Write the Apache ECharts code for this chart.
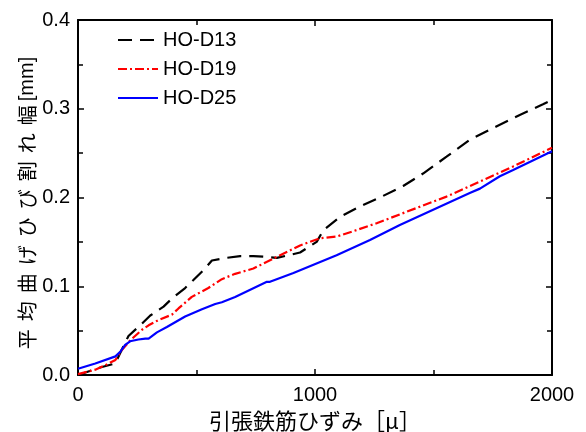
<!DOCTYPE html>
<html><head><meta charset="utf-8">
<script src="https://cdn.jsdelivr.net/npm/echarts@6/dist/echarts.min.js"></script>
<style>html,body{margin:0;padding:0;background:#fff}#c{width:586px;height:432px}</style>
</head><body><div id="c"></div>
<script>
const seriesNames = ['HO-D13', 'HO-D19', 'HO-D25'];
const d13X = [0, 101, 157, 164, 213, 270, 305, 361, 396, 452, 487, 536, 565, 628, 684, 740, 797, 839, 937, 1007, 1035, 1105, 1190, 1274, 1372, 1456, 1555, 1653, 1765, 1864, 1962, 2000];
const d13Y = [0, 0.009, 0.013, 0.017, 0.044, 0.058, 0.067, 0.077, 0.086, 0.098, 0.107, 0.120, 0.129, 0.132, 0.134, 0.134, 0.133, 0.132, 0.138, 0.150, 0.163, 0.178, 0.190, 0.200, 0.213, 0.227, 0.246, 0.265, 0.280, 0.293, 0.305, 0.310];
const d19X = [0, 73, 115, 158, 185, 220, 270, 298, 340, 396, 424, 480, 550, 607, 663, 740, 824, 853, 937, 1021, 1091, 1161, 1260, 1358, 1555, 1696, 1836, 2000];
const d19Y = [0.001, 0.006, 0.011, 0.017, 0.028, 0.039, 0.051, 0.056, 0.062, 0.068, 0.075, 0.088, 0.098, 0.108, 0.114, 0.120, 0.131, 0.135, 0.146, 0.154, 0.156, 0.162, 0.171, 0.181, 0.201, 0.218, 0.235, 0.256];
const d25X = [0, 73, 158, 178, 199, 220, 255, 284, 298, 333, 375, 452, 523, 579, 607, 663, 797, 810, 909, 1091, 1232, 1358, 1653, 1696, 1780, 1836, 2000];
const d25Y = [0.007, 0.013, 0.021, 0.026, 0.034, 0.038, 0.040, 0.041, 0.041, 0.048, 0.054, 0.066, 0.074, 0.080, 0.082, 0.088, 0.105, 0.105, 0.115, 0.135, 0.152, 0.169, 0.205, 0.210, 0.224, 0.231, 0.252];
const xTicks = [0, 1000, 2000];
const yTicks = [0.0, 0.1, 0.2, 0.3, 0.4];
const xTitle = '引張鉄筋ひずみ［μ］';
const yTitleChars = ['平', '均', '曲', 'げ', 'ひ', 'び', '割', 'れ', '幅'];
const yTitleUnit = '[mm]';

const zip = (xs, ys) => xs.map((x, i) => [x, ys[i]]);
const numFont = 'Liberation Sans, Arial, sans-serif';
const jpFont = 'Noto Sans CJK JP, sans-serif';
const axisCommon = {
  axisLine: { show: true, onZero: false, lineStyle: { color: '#000', width: 2 } },
  axisTick: { show: true, inside: true, length: 6, lineStyle: { color: '#000', width: 1.5 } },
  minorTick: { show: true, splitNumber: 2, length: 5, lineStyle: { color: '#000', width: 1.5 } },
  splitLine: { show: false }
};
const yTitleRich = yTitleChars.map(c => '{c|' + c + '}').join('') + '{u|' + yTitleUnit + '}';
const chart = echarts.init(document.getElementById('c'), null, { renderer: 'canvas' });
chart.setOption({
  animation: false,
  backgroundColor: '#fff',
  grid: { left: 78, right: 34, top: 20, bottom: 57, containLabel: false, outerBoundsMode: 'none' },
  legend: {
    orient: 'vertical', left: 112, top: 25, itemWidth: 40, itemHeight: 14, itemGap: 9,
    data: seriesNames,
    itemStyle: { opacity: 0 },
    textStyle: { fontFamily: numFont, fontSize: 20, color: '#000' }
  },
  graphic: [{
    type: 'text', x: 27, y: 205, rotation: Math.PI / 2,
    style: {
      text: yTitleRich, align: 'center', verticalAlign: 'middle',
      fill: '#000', font: '20px ' + jpFont,
      rich: {
        c: { fontFamily: jpFont, fontSize: 20, padding: [0, 4, 0, 4], fill: '#000' },
        u: { fontFamily: numFont, fontSize: 20, fill: '#000' }
      }
    }
  }],
  xAxis: [
    Object.assign({}, axisCommon, {
      type: 'value', min: 0, max: 2000, interval: 1000,
      name: xTitle, nameLocation: 'middle', nameGap: 33,
      nameTextStyle: { fontFamily: jpFont, fontSize: 22, color: '#000' },
      axisLabel: { fontFamily: numFont, fontSize: 20, color: '#000', margin: 10,
        formatter: v => xTicks.includes(v) ? String(v) : '' }
    }),
    Object.assign({}, axisCommon, {
      type: 'value', min: 0, max: 2000, interval: 1000, position: 'top',
      axisLabel: { show: false }
    })
  ],
  yAxis: [
    Object.assign({}, axisCommon, {
      type: 'value', min: 0, max: 0.4, interval: 0.1,
      axisLabel: { fontFamily: numFont, fontSize: 20, color: '#000', margin: 8,
        formatter: v => { const t = yTicks.find(k => Math.abs(k - v) < 1e-9); return t === undefined ? '' : t.toFixed(1); } }
    }),
    Object.assign({}, axisCommon, {
      type: 'value', min: 0, max: 0.4, interval: 0.1, position: 'right',
      axisLabel: { show: false }
    })
  ],
  series: [
    { name: seriesNames[0], type: 'line', showSymbol: false, symbol: 'none', data: zip(d13X, d13Y),
      lineStyle: { color: '#000', width: 2.2, type: [14, 8] }, itemStyle: { color: '#000' } },
    { name: seriesNames[1], type: 'line', showSymbol: false, symbol: 'none', data: zip(d19X, d19Y),
      lineStyle: { color: '#ff0000', width: 2.2, type: [9, 3, 2, 3] }, itemStyle: { color: '#ff0000' } },
    { name: seriesNames[2], type: 'line', showSymbol: false, symbol: 'none', data: zip(d25X, d25Y),
      lineStyle: { color: '#0000ff', width: 2.2 }, itemStyle: { color: '#0000ff' } }
  ]
});
</script></body></html>
